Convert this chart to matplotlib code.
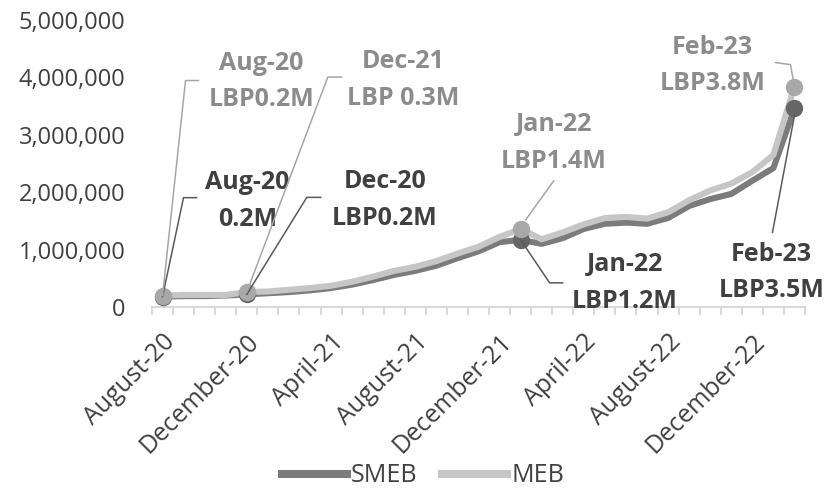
import numpy as np
import pandas as pd
import matplotlib
matplotlib.use("Agg")
import matplotlib.pyplot as plt
from matplotlib.lines import Line2D
from matplotlib.ticker import FuncFormatter

plt.rcParams['font.family'] = ['Open Sans', 'DejaVu Sans']

# monthly cost of the basket, LBP millions
months = pd.date_range('2020-08-01', '2023-02-01', freq='MS')
smeb = [0.18, 0.19, 0.19, 0.20, 0.22, 0.24, 0.26, 0.29, 0.33, 0.39, 0.47,
        0.56, 0.63, 0.72, 0.85, 0.97, 1.13, 1.17, 1.10, 1.20, 1.36, 1.45,
        1.47, 1.45, 1.55, 1.76, 1.88, 1.97, 2.20, 2.42, 3.46]
meb = [0.20, 0.21, 0.21, 0.21, 0.26, 0.27, 0.30, 0.33, 0.37, 0.44, 0.53,
       0.63, 0.70, 0.80, 0.93, 1.05, 1.22, 1.36, 1.18, 1.30, 1.44, 1.55,
       1.57, 1.54, 1.65, 1.86, 2.03, 2.15, 2.35, 2.65, 3.84]
tick_labels = [m.strftime('%B-%y') for m in months]

# callouts: (month index, text)
smeb_notes = [(0, 'Aug-20\n0.2M'), (4, 'Dec-20\nLBP0.2M'),
              (17, 'Jan-22\nLBP1.2M'), (30, 'Feb-23\nLBP3.5M')]
meb_notes = [(0, 'Aug-20\nLBP0.2M'), (4, 'Dec-21\nLBP 0.3M'),
             (17, 'Jan-22\nLBP1.4M'), (30, 'Feb-23\nLBP3.8M')]

SMEB_LINE, SMEB_DOT, SMEB_TXT = '#7b7b7b', '#666666', '#404040'
MEB_LINE, MEB_DOT, MEB_TXT = '#c6c6c6', '#a8a8a8', '#8c8c8c'

fig = plt.figure(figsize=(8.25, 4.91), dpi=100)
ax = fig.add_axes([152 / 825, 1 - 307 / 491, 653 / 825, 287 / 491])

x = np.arange(len(months))
smeb_v = np.array(smeb) * 1e6
meb_v = np.array(meb) * 1e6

ax.plot(x, smeb_v, color=SMEB_LINE, lw=4.4, solid_joinstyle='round',
        solid_capstyle='round', label='SMEB', zorder=2)
ax.plot(x, meb_v, color=MEB_LINE, lw=4.4, solid_joinstyle='round',
        solid_capstyle='round', label='MEB', zorder=3)

idx = [i for i, _ in smeb_notes]
ax.plot(x[idx], smeb_v[idx], 'o', color=SMEB_DOT, ms=11.5, zorder=4)
idx = [i for i, _ in meb_notes]
ax.plot(x[idx], meb_v[idx], 'o', color=MEB_DOT, ms=11.5, zorder=5)

ax.set_xlim(-0.5, len(months) - 0.5)
ax.set_ylim(0, 5e6)
ax.set_yticks(np.arange(0, 5e6 + 1, 1e6))
ax.yaxis.set_major_formatter(FuncFormatter(lambda v, p: f'{v:,.0f}'))
ax.set_xticks(x[::4])
ax.set_xticklabels(tick_labels[::4], rotation=45, ha='right', va='top',
                   rotation_mode='anchor')
ax.set_xticks(np.arange(-0.5, len(months), 1), minor=True)

for s in ['top', 'right', 'left']:
    ax.spines[s].set_visible(False)
ax.spines['bottom'].set_color('#d9d9d9')
ax.spines['bottom'].set_linewidth(1.5)
ax.tick_params(axis='y', length=0, pad=19, labelsize=17, labelcolor='#404040')
ax.tick_params(axis='x', which='major', length=0, pad=16, labelsize=18,
               labelcolor='#404040')
ax.tick_params(axis='x', which='minor', length=6, width=1.5, color='#d9d9d9')

# leader lines and label offsets in pixels from the marker
smeb_leaders = {0: [(0, 0), (21, 99), (34, 99)],
                4: [(0, 0), (60, 97), (74, 97)],
                17: [(0, 0), (29, -43), (42, -43)],
                30: [(0, -7), (-22, -124)]}
smeb_text_pos = {0: (85, 96), 4: (138, 94), 17: (104, -43), 30: (-23, -164)}
meb_leaders = {0: [(0, 0), (23, 215), (36, 215)],
               4: [(0, 0), (81, 215), (95, 215)],
               17: [(5, 9), (33, 48)],
               30: [(0, 0), (-4, 22), (-19, 24)]}
meb_text_pos = {0: (99, 214), 4: (156, 212), 17: (33, 86), 30: (-82, 21)}

inv = fig.transFigure.inverted()


def callout(i, v, pts, text_off, text, line_col, text_col):
    x0, y0 = ax.transData.transform((i, v))
    pix = np.array([(x0 + dx, y0 + dy) for dx, dy in pts])
    fpts = inv.transform(pix)
    fig.add_artist(Line2D(fpts[:, 0], fpts[:, 1], color=line_col, lw=1.1,
                          zorder=1))
    ax.annotate(text, xy=(i, v), xytext=text_off, textcoords='offset pixels',
                ha='center', va='center', fontsize=18, fontweight='bold',
                color=text_col, linespacing=1.62)


for i, t in smeb_notes:
    callout(i, smeb_v[i], smeb_leaders[i], smeb_text_pos[i], t,
            '#5a5a5a', SMEB_TXT)
for i, t in meb_notes:
    callout(i, meb_v[i], meb_leaders[i], meb_text_pos[i], t,
            '#a6a6a6', MEB_TXT)

fig.legend(handles=[Line2D([], [], color=SMEB_LINE, lw=5.8),
                    Line2D([], [], color=MEB_LINE, lw=5.8)],
           labels=['SMEB', 'MEB'], loc='center', ncol=2,
           bbox_to_anchor=(423 / 825, 1 - 476 / 491), frameon=False,
           fontsize=18, handlelength=2.6, handletextpad=0.15,
           columnspacing=1.0, labelcolor='#404040')

fig.savefig('out.png', dpi=100)
